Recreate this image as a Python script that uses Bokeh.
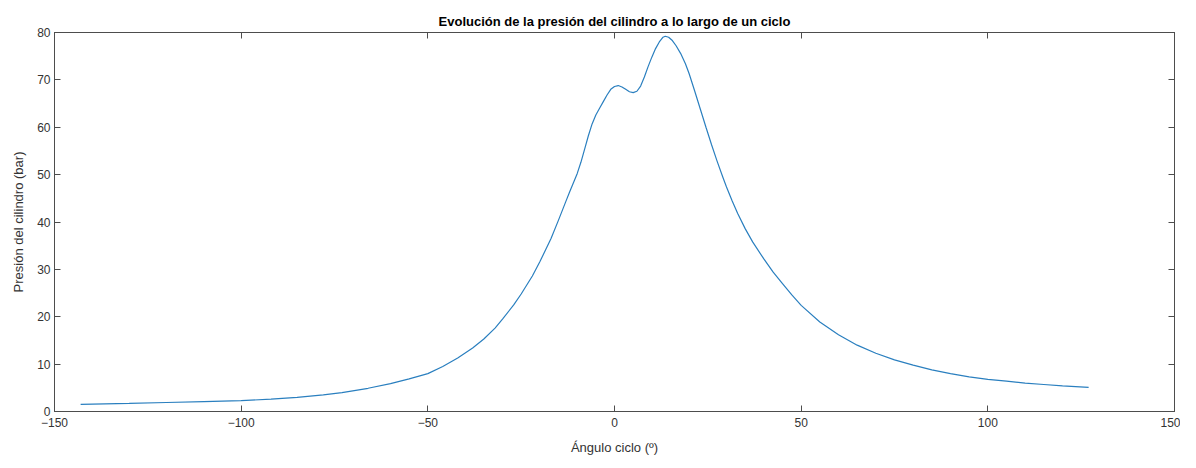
from bokeh.plotting import figure
from bokeh.models import LinearAxis, Range1d, FixedTicker
from bokeh.embed import file_html
from bokeh.resources import INLINE

angle = [-143, -130, -120, -110, -100, -92, -85, -78, -73, -66, -60, -55, -50, -46, -42,
         -38, -35, -32, -30, -27, -25, -22, -20, -17, -15, -13, -12, -11, -10, -9, -8,
         -7, -6, -5, -4, -3, -2, -1, 0, 1, 2, 3, 4, 5, 6, 7, 8, 9, 10, 11, 12, 13, 13.6,
         14.5, 15.5, 16.5, 17.7, 19, 20, 21.5, 23, 24.5, 26, 27.5, 29, 30, 31.5, 33, 35,
         37, 40, 42.5, 45, 47.5, 50, 55, 60, 65, 70, 75, 80, 85, 90, 95, 100, 105, 110,
         115, 120, 127]
pressure = [1.5, 1.7, 1.9, 2.1, 2.3, 2.6, 3.0, 3.5, 4.0, 4.9, 5.9, 6.9, 8.0, 9.5, 11.3,
            13.4, 15.3, 17.6, 19.5, 22.5, 24.8, 28.6, 31.6, 36.5, 40.4, 44.4, 46.4, 48.3,
            50.2, 52.6, 55.4, 58.2, 60.7, 62.6, 64.0, 65.4, 66.8, 68.0, 68.6, 68.8, 68.5,
            68.0, 67.5, 67.3, 67.6, 68.7, 70.6, 72.8, 74.8, 76.6, 78.0, 79.0, 79.2,
            79.0, 78.3, 77.2, 75.6, 73.4, 71.3, 67.6, 63.8, 60.0, 56.3, 52.8, 49.5, 47.4,
            44.5, 41.8, 38.6, 35.8, 32.2, 29.4, 27.0, 24.6, 22.4, 18.9, 16.2, 14.0, 12.3,
            10.9, 9.8, 8.8, 8.0, 7.3, 6.8, 6.4, 6.0, 5.7, 5.4, 5.1]

x_ticks = [-150, -100, -50, 0, 50, 100, 150]
y_ticks = [0, 10, 20, 30, 40, 50, 60, 70, 80]

AX = "#4d4d4d"
TXT = "#333333"
FONT = "Liberation Sans"

p = figure(width=1180, height=460, output_backend="svg", toolbar_location=None,
           x_range=Range1d(-150, 150), y_range=Range1d(0, 80),
           min_border_left=54, min_border_right=6, min_border_top=32,
           min_border_bottom=49)
p.title.text = "Evolución de la presión del cilindro a lo largo de un ciclo"
p.title.align = "center"
p.title.text_font = FONT
p.title.text_font_size = "13px"
p.title.text_font_style = "bold"
p.title.text_color = "#000000"
p.title.standoff = 8

p.line(angle, pressure, line_color="#2a7fbf", line_width=1.2)

p.grid.visible = False
p.outline_line_color = AX
p.background_fill_color = "white"
p.border_fill_color = "white"

for ax in (p.xaxis[0], p.yaxis[0]):
    ax.axis_line_color = AX
    ax.major_tick_line_color = AX
    ax.major_tick_in = 6
    ax.major_tick_out = 0
    ax.minor_tick_line_color = None
    ax.major_label_text_font = FONT
    ax.major_label_text_font_size = "12px"
    ax.major_label_text_color = TXT
    ax.axis_label_text_font = FONT
    ax.axis_label_text_font_size = "13px"
    ax.axis_label_text_font_style = "normal"
    ax.axis_label_text_color = TXT

p.xaxis[0].ticker = FixedTicker(ticks=x_ticks)
p.yaxis[0].ticker = FixedTicker(ticks=y_ticks)
p.xaxis[0].axis_label = "Ángulo ciclo (º)"
p.yaxis[0].axis_label = "Presión del cilindro (bar)"
p.xaxis[0].major_label_standoff = 6
p.yaxis[0].major_label_standoff = 4
p.xaxis[0].axis_label_standoff = 10
p.yaxis[0].axis_label_standoff = 8

top = LinearAxis(ticker=FixedTicker(ticks=x_ticks), major_label_text_font_size="0px",
                 axis_line_color=AX, major_tick_line_color=AX, major_tick_in=6,
                 major_tick_out=0, minor_tick_line_color=None, major_label_standoff=0)
right = LinearAxis(ticker=FixedTicker(ticks=y_ticks), major_label_text_font_size="0px",
                   axis_line_color=AX, major_tick_line_color=AX, major_tick_in=6,
                   major_tick_out=0, minor_tick_line_color=None, major_label_standoff=0)
p.add_layout(top, "above")
p.add_layout(right, "right")

open("out.html", "w").write(file_html(p, INLINE))
